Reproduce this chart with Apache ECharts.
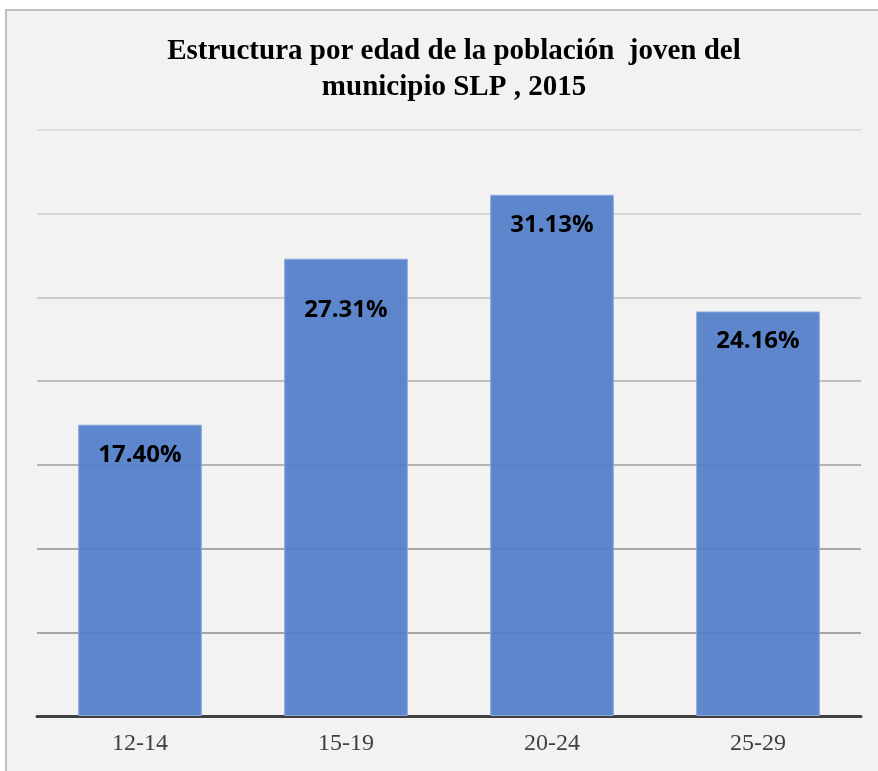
<!DOCTYPE html>
<html>
<head>
<meta charset="utf-8">
<script src="https://cdn.jsdelivr.net/npm/echarts@6/dist/echarts.min.js"></script>
<style>
html,body{margin:0;padding:0;background:#fff;}
#chart{width:878px;height:771px;}
</style>
</head>
<body>
<div id="chart"></div>
<script>
const titleLines = ['Estructura por edad de la población  joven del', 'municipio SLP , 2015'];
const categories = ['12-14', '15-19', '20-24', '25-29'];
const values = [17.40, 27.31, 31.13, 24.16];
const yMin = 0, yMax = 35, yInterval = 5;

const chart = echarts.init(document.getElementById('chart'));
chart.setOption({
  backgroundColor: '#ffffff',
  animation: false,
  graphic: [{
    type: 'rect', z: -10, silent: true,
    shape: {x: 6, y: 10, width: 900, height: 800},
    style: {fill: '#f2f2f2', stroke: '#bfbfbf', lineWidth: 2}
  }],
  title: {
    text: titleLines.join('\n'),
    left: 449, top: 29, textAlign: 'center',
    textStyle: {fontFamily: 'Liberation Serif', fontWeight: 'bold', fontSize: 29, lineHeight: 36, color: '#000'}
  },
  grid: {left: 37, right: 17, top: 130, bottom: 55},
  xAxis: {
    type: 'category', data: categories,
    axisLine: {lineStyle: {color: '#404040', width: 3}},
    axisTick: {show: false},
    axisLabel: {fontFamily: 'Liberation Serif', fontSize: 24, color: '#404040', margin: 16}
  },
  yAxis: {
    type: 'value', min: yMin, max: yMax, interval: yInterval,
    axisLabel: {show: false}, axisLine: {show: false}, axisTick: {show: false},
    splitLine: {lineStyle: {width: 2, color: ['#a6a6a6', '#a6a6a6', '#a8a8a8', '#b2b2b2', '#bfbfbf', '#cbcbcb', '#d7d7d7', '#dedede']}}
  },
  series: [{
    type: 'bar',
    data: values.map((v, i) => i === 1 ? {value: v, label: {distance: 38}} : v),
    barWidth: '60%',
    itemStyle: {color: 'rgba(82,126,201,0.93)', borderColor: '#8aa8dc', borderWidth: 1},
    label: {
      show: true, position: 'insideTop', distance: 17,
      formatter: p => p.value.toFixed(2) + '%',
      fontFamily: 'Open Sans', fontWeight: 'bold', fontSize: 24, lineHeight: 26, color: '#000'
    }
  }]
});
</script>
</body>
</html>
